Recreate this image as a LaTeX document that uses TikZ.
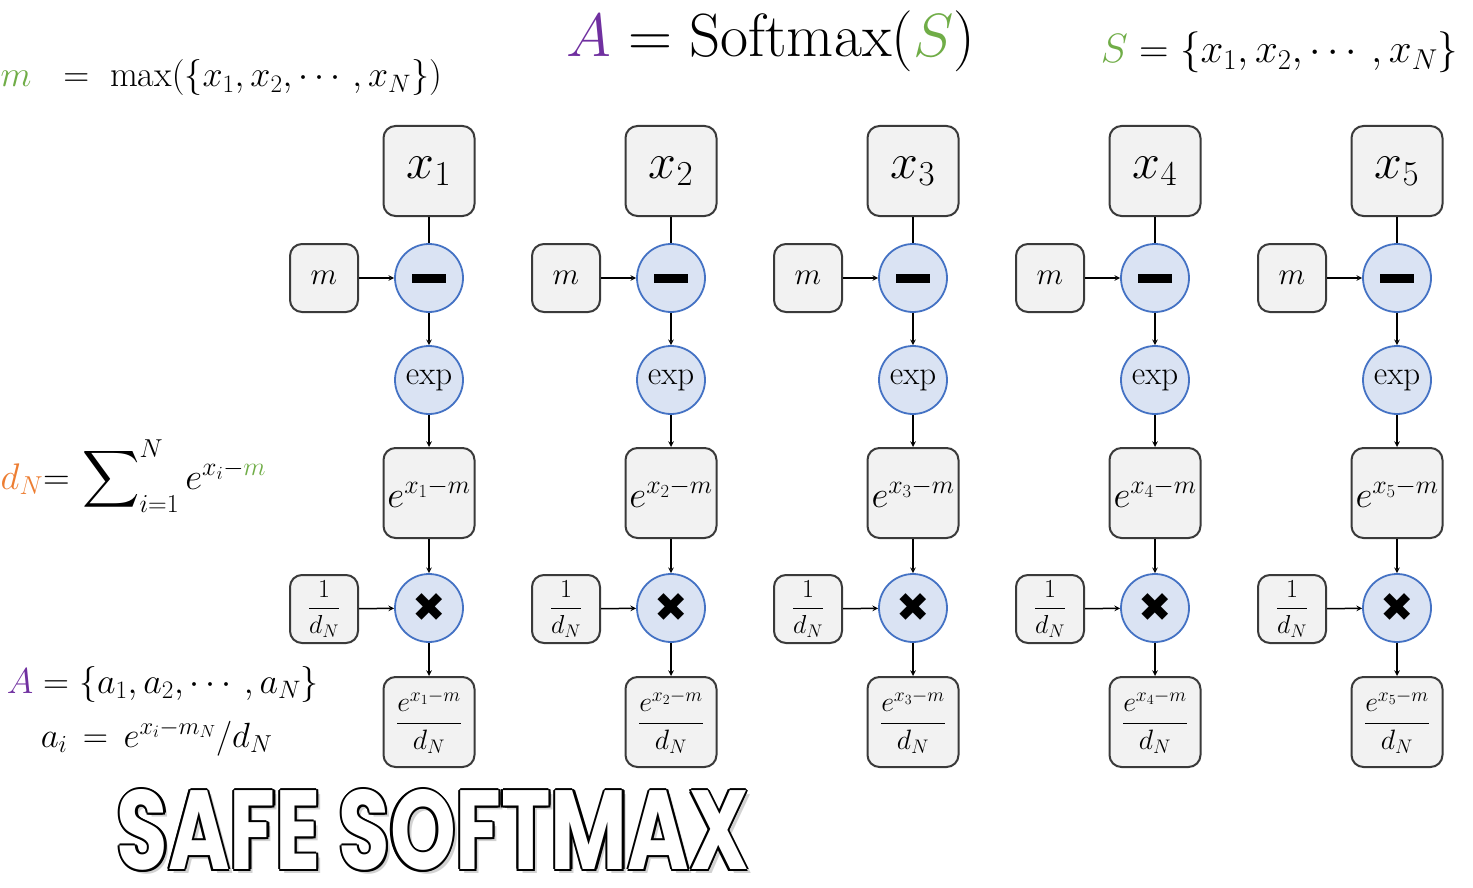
\RequirePackage{fix-cm}
\documentclass[tikz,border=0pt]{standalone}
\usepackage{amsmath, graphicx}
\usepackage{fontspec}
\newfontfamily\symfont{DejaVu Sans}
\newfontfamily\titlefont{Poppins}
\usetikzlibrary{arrows}

\definecolor{boxgray}{HTML}{F2F2F2}
\definecolor{boxline}{HTML}{3A3A3A}
\definecolor{opblue}{HTML}{DAE3F3}
\definecolor{opline}{HTML}{4472C4}
\definecolor{mgreen}{HTML}{70AD47}
\definecolor{apurple}{HTML}{7030A0}
\definecolor{dorange}{HTML}{ED7D31}
\newcommand{\fs}[1]{\fontsize{#1}{#1}\selectfont}
\newcommand{\titletext}{\resizebox{632pt}{80pt}{\titlefont\bfseries SAFE SOFTMAX}}

\begin{document}
\begin{tikzpicture}[
                x = 1pt, y = -1pt, % one unit per pixel, y going down
                > = stealth, % arrow head style
                line width = 1.5pt % line style
            ]

            \tikzstyle{box}=[draw = boxline, fill = boxgray, rounded corners = 12pt,
            line width = 2pt, inner sep = 0pt]
            \tikzstyle{bigbox}=[box, minimum width = 91pt, minimum height = 90pt]
            \tikzstyle{smallbox}=[box, minimum size = 68pt]
            \tikzstyle{op}=[draw = opline, fill = opblue, circle, line width = 1.8pt,
            inner sep = 0pt, minimum size = 68pt]
            \tikzstyle{formula}=[inner sep = 0pt, anchor = base west]

            \path[use as bounding box, fill = white] (0,0) rectangle (1473,888);

            % formulas
            \node[formula, font = \fs{61}] (softmax) at (566,57)
            {${\color{apurple}A} = \text{Softmax}({\color{mgreen}S})$};
            \node[formula, font = \fs{41}] (sdef) at (1100,63)
            {${\color{mgreen}S} = \{x_1, x_2, \cdots, x_N\}$};
            \node[formula, font = \fs{36}] (maxdef) at (0,87)
            {${\color{mgreen}m}\ \ = \ \max(\{x_1, x_2, \cdots, x_N\})$};
            \node[formula, font = \fs{37}] (ddef) at (0,489)
            {${\color{dorange}d_N}{=}\,\mathop{\vcenter{\hbox{\scalebox{1.6}{$\displaystyle\sum$}}}}\nolimits_{i=1}^{N} e^{x_i - {\color{mgreen}m}}$};
            \node[formula, font = \fs{36}] (adef) at (6,693)
            {${\color{apurple}A} = \{a_1, a_2, \cdots, a_N\}$};
            \node[formula, font = \fs{35}] (aidef) at (40,747)
            {$a_i \,=\, e^{x_i - m_N}/d_N$};

            % one column per input
            \foreach \i [evaluate = \i as \x using 187+242*\i] in {1,...,5} {
                \node[bigbox, font = \fs{50}] (x\i) at (\x,171) {$x_{\i}$};
                \node[op] (sub\i) at (\x,278) {\rule{34pt}{9pt}};
                \node[smallbox, font = \fs{31}] (m\i) at (\x-105,278) {$m$};
                \node[op, font = \fs{33}] (exp\i) at (\x,380) {exp};
                \node[bigbox, font = \fs{37}] (e\i) at (\x,493) {$e^{x_{\i}-m}$};
                \node[op, font = \symfont\fs{40}] (mul\i) at (\x,608) {✖};
                \node[smallbox, font = \fs{26}] (d\i) at (\x-105,609) {$\dfrac{1}{d_N}$};
                \node[bigbox, font = \fs{28}] (out\i) at (\x,722)
                {$\dfrac{e^{x_{\i}-m}}{d_N}$};

                \draw (x\i) -- (sub\i); \draw[->] (m\i) -- (sub\i);
                \draw[->] (sub\i) -- (exp\i); \draw[->] (exp\i) -- (e\i);
                \draw[->] (e\i) -- (mul\i); \draw[->] (d\i) -- (mul\i);
                \draw[->] (mul\i) -- (out\i);
            }

            % outlined title
            \node[gray!35] (tshadow) at (437,834) {\titletext};
            \foreach \a in {0,45,...,315}
                \node (t\a) [shift = {(\a:2.2pt)}] at (433,830) {\titletext};
            \node[white] (title) at (433,830) {\titletext};

        \end{tikzpicture}
\end{document}
